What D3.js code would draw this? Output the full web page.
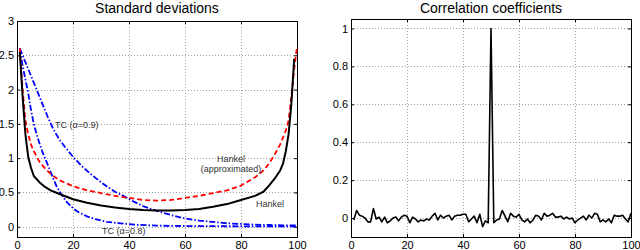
<!DOCTYPE html>
<meta charset="utf-8">
<style>
body { margin: 0; background: #fff; }
text { font-family: "Liberation Sans", Arial, sans-serif; }
.tick text { font-size: 11px; fill: #000; }
.grid line { stroke: #888; stroke-dasharray: 1,2; stroke-width: 0.8; shape-rendering: crispEdges; }
.frame { fill: none; stroke: #000; stroke-width: 1; shape-rendering: crispEdges; }
.title { font-size: 14px; text-anchor: middle; }
.note { font-size: 9px; fill: #333; }
</style>
<svg width="640" height="250"></svg>
<script src="https://d3js.org/d3.v7.min.js"></script>
<script>

// left panel: standard deviations
var hankelX = [1,2,3,4,5,6,8,10,12,15,20,25,30,35,40,45,50,55,60,65,70,75,80,85,88,90,92,94,95,96,97,98,99];
var hankelY = [2.55,1.9,1.35,1.02,0.86,0.74,0.65,0.58,0.53,0.48,0.4,0.35,0.31,0.28,0.26,0.245,0.235,0.235,0.245,0.26,0.29,0.33,0.39,0.45,0.51,0.6,0.7,0.82,0.92,1.1,1.35,1.8,2.45];

var approxX = [1,2,3,4,5,6,8,10,12,15,20,25,30,35,40,45,50,55,60,65,70,75,80,85,88,90,92,94,96,97,98,99,100];
var approxY = [2.6,2.0,1.55,1.35,1.2,1.1,0.95,0.85,0.77,0.68,0.59,0.53,0.49,0.45,0.42,0.39,0.38,0.39,0.42,0.45,0.49,0.53,0.6,0.72,0.82,0.92,1.05,1.2,1.4,1.55,1.9,2.3,2.62];

var tc09X = [1,3,5,7,9,11,13,15,17,20,23,26,29,32,35,38,41,45,50,55,60,65,70,75,80,85,90,95,100];
var tc09Y = [2.6,2.4,2.2,2.0,1.8,1.6,1.42,1.28,1.17,1.02,0.89,0.78,0.68,0.59,0.51,0.45,0.38,0.3,0.23,0.17,0.12,0.09,0.07,0.05,0.04,0.03,0.025,0.02,0.02];

var tc08X = [1,2,3,4,5,6,7,8,9,10,12,14,16,18,20,22,25,28,32,37,42,50,60,70,80,90,100];
var tc08Y = [2.6,2.35,2.15,1.95,1.7,1.5,1.35,1.22,1.1,1.0,0.8,0.6,0.46,0.35,0.27,0.21,0.15,0.11,0.07,0.05,0.03,0.015,0.01,0.008,0.006,0.005,0.005];

// right panel: correlation coefficients, lags 1..100
var corrY = [-0.01,0.04,0.015,0.01,0,-0.02,-0.02,0.05,-0.005,0.005,
  -0.02,0.005,-0.025,-0.015,0,0.005,-0.015,0.005,0.015,0.01,
  -0.025,0.005,-0.005,-0.02,-0.01,-0.015,-0.005,-0.01,0.01,0.025,
  -0.01,0.015,0,0.01,0.015,-0.01,0.01,0.015,0.015,0.02,
  0.02,-0.02,-0.005,0.01,-0.025,0.02,-0.045,-0.015,-0.025,1.0,
  -0.025,-0.01,-0.005,0.04,0.01,-0.02,0.025,0.01,0.005,0.02,
  -0.01,-0.02,-0.005,-0.025,-0.01,0.015,0.01,-0.01,0.025,0.01,
  0.015,0.025,0.005,0.005,0.01,-0.005,0.005,-0.005,0,-0.025,
  -0.01,0,0.01,-0.01,0.015,0,0.025,0.02,-0.02,-0.01,
  -0.02,-0.005,-0.025,0.015,0.01,0.01,0.015,-0.005,-0.02,0.025];

var xTicks = [0,20,40,60,80,100];
var sdTicks = [0,0.5,1,1.5,2,2.5,3];
var corrTicks = [0,0.2,0.4,0.6,0.8,1];

var svg = d3.select("svg");

function panel(left, right, top, bottom, yDomain, yTicks, title, titleX) {
  var x = d3.scaleLinear().domain([0,100]).range([left,right]);
  var y = d3.scaleLinear().domain(yDomain).range([bottom,top]);
  var g = svg.append("g");

  g.append("g").attr("class","grid")
    .selectAll("line.v").data(xTicks.slice(1,-1)).enter().append("line")
    .attr("x1",function(d){return Math.round(x(d))+0.5;}).attr("x2",function(d){return Math.round(x(d))+0.5;})
    .attr("y1",top).attr("y2",bottom);
  g.append("g").attr("class","grid")
    .selectAll("line.h").data(yTicks.filter(function(d){return y(d) > top+1;})).enter().append("line")
    .attr("y1",function(d){return Math.round(y(d))+0.5;}).attr("y2",function(d){return Math.round(y(d))+0.5;})
    .attr("x1",left).attr("x2",right);

  // bottom labels sit right at the picture's lower edge, as in the original
  g.append("g").attr("transform","translate(0,"+bottom+")")
    .call(d3.axisBottom(x).tickValues(xTicks).tickSize(-3).tickFormat(d3.format("d")))
    .call(function(a){
      a.select(".domain").remove();
      a.selectAll("text").attr("y",11.5).attr("dy",0);
    });
  g.append("g").attr("transform","translate("+left+",0)")
    .call(d3.axisLeft(y).tickValues(yTicks).tickSize(-3).tickPadding(3).tickFormat(function(d){return d;}))
    .call(function(a){a.select(".domain").remove();});
  g.append("g").attr("transform","translate(0,"+top+")")
    .call(d3.axisTop(x).tickValues(xTicks).tickSize(-3).tickFormat(""))
    .call(function(a){a.select(".domain").remove();});
  g.append("g").attr("transform","translate("+right+",0)")
    .call(d3.axisRight(y).tickValues(yTicks).tickSize(-3).tickFormat(""))
    .call(function(a){a.select(".domain").remove();});

  g.append("rect").attr("class","frame")
    .attr("x",left+0.5).attr("y",top+0.5).attr("width",right-left).attr("height",bottom-top);

  svg.append("text").attr("class","title").attr("x",titleX).attr("y",13).text(title);
  return {x:x, y:y, g:g};
}

var L = panel(17, 297, 21, 237, [-0.15,3], sdTicks, "Standard deviations", 157);
var R = panel(351, 631, 19, 237, [-0.1,1.05], corrTicks, "Correlation coefficients", 491);

function draw(p, xs, ys, color, width, dash) {
  var pts = xs.map(function(d,i){return [d, ys[i]];});
  var line = d3.line().x(function(d){return p.x(d[0]);}).y(function(d){return p.y(d[1]);});
  p.g.append("path").datum(pts)
    .attr("d", line)
    .attr("fill","none")
    .attr("stroke",color)
    .attr("stroke-width",width)
    .attr("stroke-linejoin","round")
    .attr("stroke-dasharray",dash);
}

draw(L, tc09X, tc09Y, "#0000ff", 1.8, "6,2,1.5,2");
draw(L, tc08X, tc08Y, "#0000ff", 1.8, "6,2,1.5,2");
draw(L, approxX, approxY, "#ff0000", 1.8, "5,3");
draw(L, hankelX, hankelY, "#000", 2, null);

var lags = corrY.map(function(d,i){return i+1;});
draw(R, lags, corrY, "#000", 1.6, null);

// annotations
var notes = [
  {t:"TC (\u03b1=0.9)", x:55, y:128, a:"start"},
  {t:"Hankel", x:231, y:162, a:"middle"},
  {t:"(approximated)", x:231, y:172, a:"middle"},
  {t:"Hankel", x:270, y:207, a:"middle"},
  {t:"TC (\u03b1=0.8)", x:102, y:234, a:"start"}
];
svg.selectAll("text.note").data(notes).enter().append("text")
  .attr("class","note")
  .attr("x",function(d){return d.x;}).attr("y",function(d){return d.y;})
  .attr("text-anchor",function(d){return d.a;})
  .text(function(d){return d.t;});

</script>
